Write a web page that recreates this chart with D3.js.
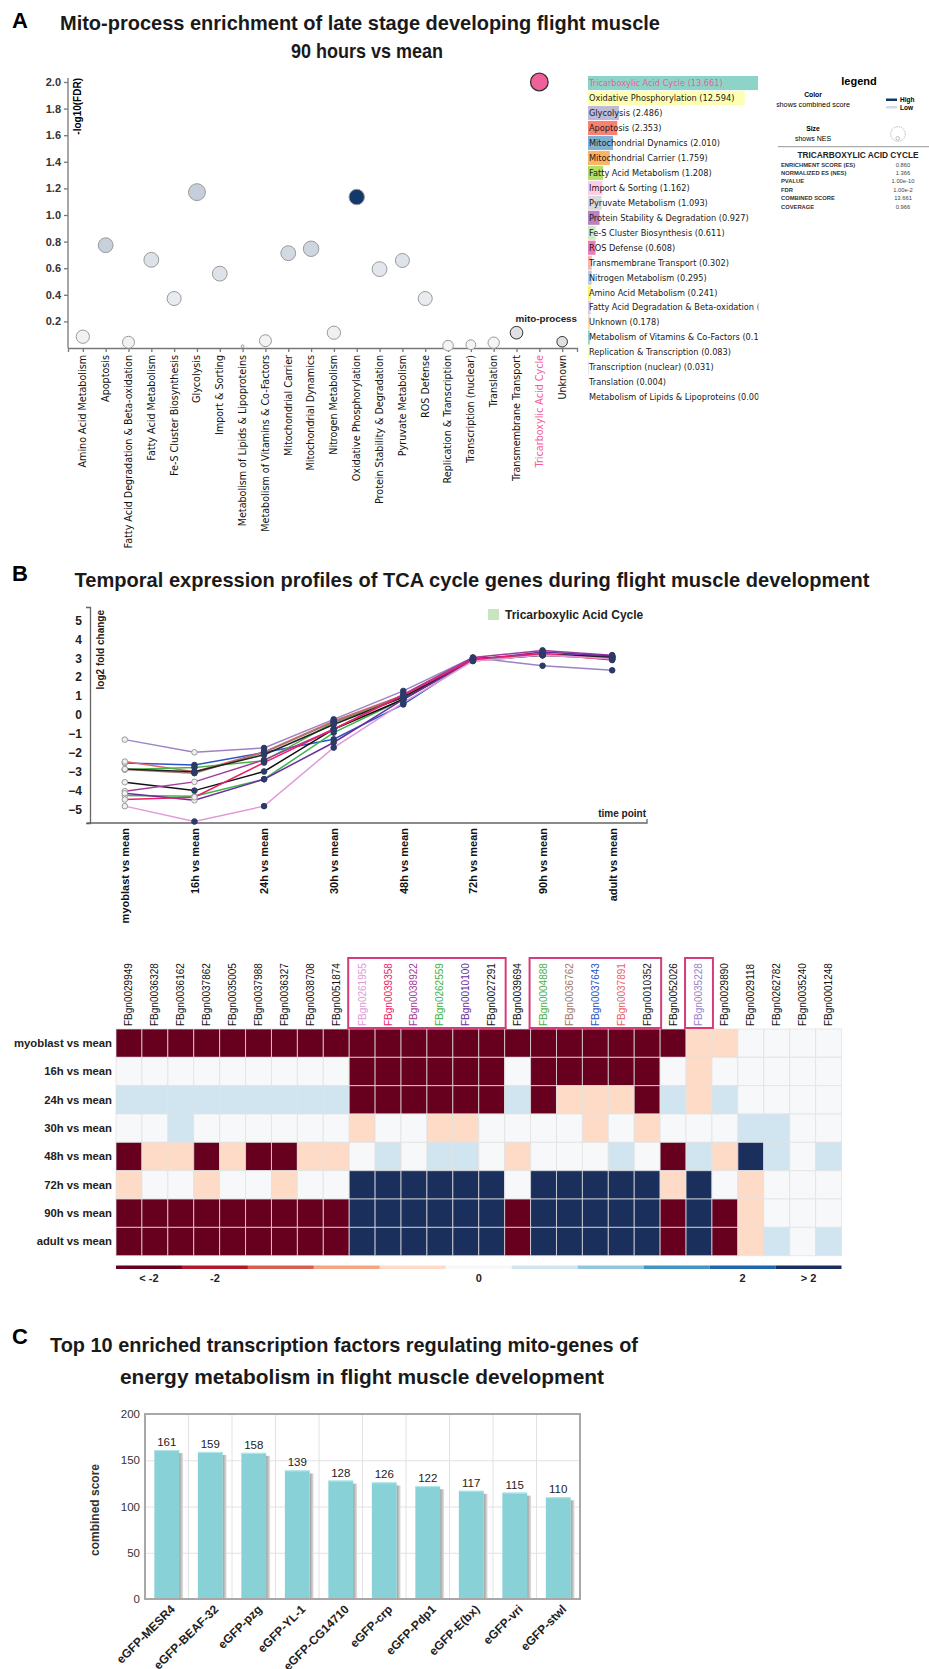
<!DOCTYPE html>
<html lang="en">
<head>
<meta charset="UTF-8">
<title>Flight muscle mito-process figure</title>
<script src="https://cdn.jsdelivr.net/npm/d3@7"></script>
<style>
    body{
        margin:0;
        padding:0;
        background:#fff;
    }
    text{
        font-family: 'Liberation Sans', Arial, sans-serif;
    }
</style>
</head>
<body>
<svg id="fig" width="929" height="1669"></svg>
<script>

// ---------- panel A data ----------
var processes = ['Amino Acid Metabolism', 'Apoptosis', 'Fatty Acid Degradation & Beta-oxidation',
    'Fatty Acid Metabolism', 'Fe-S Cluster Biosynthesis', 'Glycolysis', 'Import & Sorting',
    'Metabolism of Lipids & Lipoproteins', 'Metabolism of Vitamins & Co-Factors', 'Mitochondrial Carrier',
    'Mitochondrial Dynamics', 'Nitrogen Metabolism', 'Oxidative Phosphorylation',
    'Protein Stability & Degradation', 'Pyruvate Metabolism', 'ROS Defense', 'Replication & Transcription',
    'Transcription (nuclear)', 'Translation', 'Transmembrane Transport', 'Tricarboxylic Acid Cycle', 'Unknown']
var negLogFdr = [0.085, 0.773, 0.043, 0.663, 0.372, 1.172, 0.559, 0.013, 0.055, 0.713, 0.746,
    0.115, 1.135, 0.593, 0.658, 0.372, 0.018, 0.025, 0.040, 0.115, 2.0, 0.047]
var nes = [1.03, 1.15, 0.93, 1.15, 1.09, 1.31, 1.15, 0.22, 0.93, 1.15, 1.20,
    1.03, 1.20, 1.15, 1.09, 1.09, 0.82, 0.76, 0.88, 0.98, 1.366, 0.82]
var combinedScore = [0.241, 2.353, 0.215, 1.208, 0.611, 2.486, 1.162, 0.000, 0.146, 1.759, 2.010,
    0.295, 12.594, 0.927, 1.093, 0.608, 0.083, 0.031, 0.004, 0.302, 13.661, 0.178]
var barColors = {
    'Tricarboxylic Acid Cycle': '#8dd3c7', 'Oxidative Phosphorylation': '#ffffb3', 'Glycolysis': '#bebada',
    'Apoptosis': '#fb8072', 'Mitochondrial Dynamics': '#80b1d3', 'Mitochondrial Carrier': '#fdb462',
    'Fatty Acid Metabolism': '#b3de69', 'Import & Sorting': '#fccde5', 'Pyruvate Metabolism': '#d9d9d9',
    'Protein Stability & Degradation': '#bc80bd', 'Fe-S Cluster Biosynthesis': '#ccebc5', 'ROS Defense': '#f07ab4',
    'Transmembrane Transport': '#fbb4ae', 'Nitrogen Metabolism': '#b3cde3', 'Amino Acid Metabolism': '#ffed6f',
    'Fatty Acid Degradation & Beta-oxidation': '#decbe4', 'Unknown': '#fed9a6',
    'Metabolism of Vitamins & Co-Factors': '#8dd3c7', 'Replication & Transcription': '#ffffb3',
    'Transcription (nuclear)': '#bebada', 'Translation': '#fb8072', 'Metabolism of Lipids & Lipoproteins': '#80b1d3'
}
var statNames = ['ENRICHMENT SCORE (ES)', 'NORMALIZED ES (NES)', 'PVALUE', 'FDR', 'COMBINED SCORE', 'COVERAGE']
var statValues = ['0.860', '1.366', '1.00e-10', '1.00e-2', '13.661', '0.966']

// ---------- panel B data ----------
var timePoints = ['myoblast vs mean', '16h vs mean', '24h vs mean', '30h vs mean',
    '48h vs mean', '72h vs mean', '90h vs mean', 'adult vs mean']
var tcaGenes = ['FBgn0035228', 'FBgn0037643', 'FBgn0037891', 'FBgn0004888', 'FBgn0262559', 'FBgn0036762',
    'FBgn0027291', 'FBgn0010352', 'FBgn0038922', 'FBgn0010100', 'FBgn0039358', 'FBgn0261955']
var foldChange = [
    [-1.30, -1.97, -1.74, -0.23, 1.27, 3.03, 2.60, 2.36],
    [-2.53, -2.64, -1.98, -1.28, 0.56, 2.94, 3.20, 3.11],
    [-2.46, -3.00, -1.95, -0.32, 1.04, 2.94, 3.16, 2.94],
    [-2.88, -2.77, -2.42, -0.40, 0.92, 2.90, 3.16, 3.06],
    [-4.25, -4.29, -3.39, -0.93, 0.83, 2.90, 3.20, 3.03],
    [-2.88, -3.07, -1.98, -0.37, 1.00, 2.85, 3.16, 2.97],
    [-3.55, -3.99, -2.98, -0.75, 0.83, 2.97, 3.20, 3.06],
    [-2.85, -3.00, -2.10, -0.50, 0.95, 2.90, 3.15, 3.05],
    [-4.02, -3.53, -2.37, -0.75, 1.09, 3.03, 3.41, 3.16],
    [-4.13, -4.50, -3.39, -1.45, 0.83, 2.90, 3.32, 3.11],
    [-4.46, -4.34, -2.51, -0.75, 1.04, 2.94, 3.24, 2.90],
    [-4.81, -5.62, -4.81, -1.72, 0.65, 2.85, 3.16, 2.97]
]
var geneColors = {
    'FBgn0035228': '#9b84c3', 'FBgn0037643': '#2a56c6', 'FBgn0037891': '#e8616d', 'FBgn0004888': '#4bb04b',
    'FBgn0262559': '#3cb44a', 'FBgn0036762': '#a07a6e', 'FBgn0027291': '#111111', 'FBgn0010352': '#222222',
    'FBgn0038922': '#a3399e', 'FBgn0010100': '#6b2ea0', 'FBgn0039358': '#ec1f66', 'FBgn0261955': '#e09ad8'
}
// hollow markers at the 16h point
var hollowAt16h = [true, false, false, false, true, false, false, false, true, true, true, false]

// ---------- heatmap data ----------
var heatGenes = ['FBgn0029949', 'FBgn0036328', 'FBgn0036162', 'FBgn0037862', 'FBgn0035005', 'FBgn0037988',
    'FBgn0036327', 'FBgn0038708', 'FBgn0051874', 'FBgn0261955', 'FBgn0039358', 'FBgn0038922', 'FBgn0262559',
    'FBgn0010100', 'FBgn0027291', 'FBgn0039694', 'FBgn0004888', 'FBgn0036762', 'FBgn0037643', 'FBgn0037891',
    'FBgn0010352', 'FBgn0052026', 'FBgn0035228', 'FBgn0029890', 'FBgn0029118', 'FBgn0262782', 'FBgn0035240',
    'FBgn0001248']
var heatValues = [
    [-3, -3, -3, -3, -3, -3, -3, -3, -3, -3, -3, -3, -3, -3, -3, -3, -3, -3, -3, -3, -3, -3, -0.5, -0.5, 0, 0, 0, 0],
    [0, 0, 0, 0, 0, 0, 0, 0, 0, -3, -3, -3, -3, -3, -3, 0, -3, -3, -3, -3, -3, 0, -0.5, 0, 0, 0, 0, 0],
    [0.5, 0.5, 0.5, 0.5, 0.5, 0.5, 0.5, 0.5, 0.5, -3, -3, -3, -3, -3, -3, 0.5, -3, -0.5, -0.5, -0.5, -3, 0.5, -0.5, 0.5, 0, 0, 0, 0],
    [0, 0, 0.5, 0, 0, 0, 0, 0, 0, -0.5, 0, 0, -0.5, -0.5, 0, 0, 0, 0, -0.5, 0, -0.5, 0, 0, 0, 0.5, 0.5, 0, 0],
    [-3, -0.5, -0.5, -3, -0.5, -3, -3, -0.5, -0.5, 0, 0.5, 0, 0.5, 0.5, 0, -0.5, 0, 0, 0, 0.5, 0, -3, 0.5, -0.5, 3, 0.5, 0, 0.5],
    [-0.5, 0, 0, -0.5, 0, 0, -0.5, 0, 0, 3, 3, 3, 3, 3, 3, 0, 3, 3, 3, 3, 3, -0.5, 3, 0, -0.5, 0, 0, 0],
    [-3, -3, -3, -3, -3, -3, -3, -3, -3, 3, 3, 3, 3, 3, 3, -3, 3, 3, 3, 3, 3, -3, 3, -3, -0.5, 0, 0, 0],
    [-3, -3, -3, -3, -3, -3, -3, -3, -3, 3, 3, 3, 3, 3, 3, -3, 3, 3, 3, 3, 3, -3, 3, -3, -0.5, 0.5, 0, 0.5]
]
var heatPalette = ['#67001f', '#b2182b', '#d6604d', '#f4a582', '#fddbc7', '#f7f8fa',
    '#d1e5f0', '#92c5de', '#4393c3', '#2166ac', '#1b2f5c']
var paletteLabels = ['< -2', '-2', '', '', '', '0', '', '', '', '2', '> 2']
var boxedGroups = [[9, 14], [16, 20], [22, 22]]

// ---------- panel C data ----------
var tfNames = ['eGFP-MESR4', 'eGFP-BEAF-32', 'eGFP-pzg', 'eGFP-YL-1', 'eGFP-CG14710',
    'eGFP-crp', 'eGFP-Pdp1', 'eGFP-E(bx)', 'eGFP-vri', 'eGFP-stwl']
var tfScores = [161, 159, 158, 139, 128, 126, 122, 117, 115, 110]


var wide = "'DejaVu Sans',sans-serif"
var svg = d3.select('#fig')

// condensed bold headings: Arial metrics squeezed to the measured width
var heading = (x, y, txt, len) => svg.append('text')
    .attr('x', x).attr('y', y)
    .attr('text-anchor', 'middle')
    .attr('textLength', len)
    .attr('lengthAdjust', 'spacingAndGlyphs')
    .style('font-weight', 'bold')
    .style('font-size', '21px')
    .attr('fill', '#1a1a1a')
    .text(txt)

var letter = (y, txt) => svg.append('text')
    .attr('x', 12).attr('y', y)
    .style('font-size', '22px').style('font-weight', 'bold')
    .text(txt)

// ===== A =====
letter(28, 'A')
heading(360, 30, 'Mito-process enrichment of late stage developing flight muscle', 600)
heading(367, 58, '90 hours vs mean', 152)

var xA = d3.scalePoint().domain(processes).range([68, 577]).padding(0.65)
var yA = d3.scaleLinear().domain([0, 2]).range([348, 82])
var rA = d3.scaleLinear().domain([0, 1.366]).range([0, 8.8])
var fillA = d3.scaleLinear().domain([0, 12]).range(['#f4f5f7', '#12396a']).clamp(true)

var gA = svg.append('g')
gA.append('g')
    .attr('transform', 'translate(68,0)')
    .call(d3.axisLeft(yA).tickValues(d3.range(0.2, 2.01, 0.2)).tickSize(4).tickSizeOuter(0).tickFormat(d3.format('.1f')))
    .call(g => g.select('.domain').attr('d', 'M0,' + yA(2.03) + 'V' + yA(0)))
    .call(g => g.selectAll('line,path').attr('stroke', '#777').attr('stroke-width', 1.3))
    .call(g => g.selectAll('text').style('font-size', '11px').style('font-weight', 'bold').attr('fill', '#333'))

gA.append('g')
    .attr('transform', 'translate(0,' + yA(0) + ')')
    .call(d3.axisBottom(xA).tickSize(4).tickSizeOuter(4).tickFormat(''))
    .call(g => g.selectAll('line,path').attr('stroke', '#777').attr('stroke-width', 1.3))

gA.append('text')
    .attr('transform', 'translate(81,' + yA(2.03) + ') rotate(-90)')
    .attr('text-anchor', 'end')
    .style('font-size', '10px').style('font-weight', 'bold')
    .text('-log10(FDR)')

gA.append('text')
    .attr('x', 577).attr('y', yA(0.2) + 1)
    .attr('text-anchor', 'end')
    .style('font-size', '9.8px').style('font-weight', 'bold').attr('fill', '#222')
    .text('mito-process')

gA.selectAll('text.proc')
    .data(processes)
    .enter()
    .append('text')
    .attr('class', 'proc')
    .attr('transform', d => 'translate(' + xA(d) + ',' + (yA(0) + 7) + ') rotate(-90)')
    .attr('text-anchor', 'end')
    .attr('dy', '0.35em')
    .style('font-family', wide).style('font-size', '9.6px')
    .attr('fill', d => d == 'Tricarboxylic Acid Cycle' ? '#ef5d98' : '#111')
    .text(d => d)

var outlined = ['Transmembrane Transport', 'Unknown']
gA.selectAll('circle.proc')
    .data(processes)
    .enter()
    .append('circle')
    .attr('cx', d => xA(d))
    .attr('cy', (d, i) => yA(negLogFdr[i]))
    .attr('r', (d, i) => rA(nes[i]))
    .attr('fill', (d, i) => d == 'Tricarboxylic Acid Cycle' ? '#f0609a'
        : outlined.includes(d) ? '#dfe1e4' : fillA(combinedScore[i]))
    .attr('stroke', (d, i) => (d == 'Tricarboxylic Acid Cycle' || outlined.includes(d)) ? '#333' : '#9a9a9a')
    .attr('stroke-width', (d) => d == 'Tricarboxylic Acid Cycle' ? 1.3 : 1)

// ranked bar list
var ranked = d3.sort(processes.map((p, i) => ({ name: p, score: combinedScore[i] })), (a, b) => b.score - a.score)
var yList = d3.scaleBand().domain(ranked.map(d => d.name)).range([76, 404.5]).paddingInner(0.06)
var wList = d3.scaleLinear().domain([0, 13.661]).range([0, 170])

svg.append('clipPath').attr('id', 'listClip')
    .append('rect').attr('x', 586).attr('y', 70).attr('width', 172.5).attr('height', 340)

var gList = svg.append('g').attr('clip-path', 'url(#listClip)')
gList.selectAll('rect')
    .data(ranked)
    .enter()
    .append('rect')
    .attr('x', 588)
    .attr('y', d => yList(d.name))
    .attr('width', d => wList(d.score))
    .attr('height', yList.bandwidth())
    .attr('fill', d => barColors[d.name])
gList.selectAll('text')
    .data(ranked)
    .enter()
    .append('text')
    .attr('x', 589)
    .attr('y', d => yList(d.name) + yList.bandwidth() / 2)
    .attr('dy', '0.35em')
    .style('font-family', wide).style('font-size', '8.2px')
    .attr('fill', d => d.name == 'Tricarboxylic Acid Cycle' ? '#ef5d98' : '#1a1a1a')
    .text(d => d.name + ' (' + d.score.toFixed(3) + ')')

// legend box
var gLeg = svg.append('g').style('font-family', wide)
gLeg.append('text').attr('x', 859).attr('y', 85).attr('text-anchor', 'middle')
    .style('font-family', 'Liberation Sans').style('font-size', '11px').style('font-weight', 'bold').text('legend')
gLeg.append('text').attr('x', 813).attr('y', 97).attr('text-anchor', 'middle')
    .style('font-size', '6.8px').style('font-weight', 'bold').text('Color')
svg.append('clipPath').attr('id', 'legClip')
    .append('rect').attr('x', 776.5).attr('y', 98).attr('width', 80).attr('height', 12)
gLeg.append('text').attr('x', 813).attr('y', 107).attr('text-anchor', 'middle')
    .attr('clip-path', 'url(#legClip)')
    .style('font-size', '7.3px').text('shows combined score')
gLeg.append('rect').attr('x', 886).attr('y', 98.5).attr('width', 11).attr('height', 2.5).attr('fill', fillA(12))
gLeg.append('rect').attr('x', 886).attr('y', 106).attr('width', 11).attr('height', 2.5).attr('fill', '#d4dbe5')
gLeg.append('text').attr('x', 900).attr('y', 102).style('font-size', '6.5px').style('font-weight', 'bold').text('High')
gLeg.append('text').attr('x', 900).attr('y', 109.5).style('font-size', '6.5px').style('font-weight', 'bold').text('Low')
gLeg.append('text').attr('x', 813).attr('y', 131).attr('text-anchor', 'middle')
    .style('font-size', '6.8px').style('font-weight', 'bold').text('Size')
gLeg.append('text').attr('x', 813).attr('y', 141).attr('text-anchor', 'middle')
    .style('font-size', '7px').text('shows NES')
gLeg.append('circle').attr('cx', 898).attr('cy', 134).attr('r', 7.3)
    .attr('fill', 'none').attr('stroke', '#999').attr('stroke-width', 0.7).attr('stroke-dasharray', '1.5,1')
gLeg.append('circle').attr('cx', 897.7).attr('cy', 138.3).attr('r', 1.8)
    .attr('fill', 'none').attr('stroke', '#999').attr('stroke-width', 0.6)
gLeg.append('line').attr('x1', 778).attr('x2', 929).attr('y1', 146.7).attr('y2', 146.7)
    .attr('stroke', '#777').attr('stroke-width', 0.8)
gLeg.append('text').attr('x', 858).attr('y', 158).attr('text-anchor', 'middle')
    .attr('textLength', 121).attr('lengthAdjust', 'spacingAndGlyphs')
    .style('font-size', '9px').style('font-weight', 'bold').attr('fill', '#222').text('TRICARBOXYLIC ACID CYCLE')
var yStat = d3.scalePoint().domain(statNames).range([166.5, 208.8])
gLeg.selectAll('text.sn').data(statNames).enter().append('text')
    .attr('x', 781).attr('y', d => yStat(d))
    .style('font-size', '5.8px').style('font-weight', 'bold').attr('fill', '#333').text(d => d)
gLeg.selectAll('text.sv').data(statValues).enter().append('text')
    .attr('x', 903).attr('y', (d, i) => yStat(statNames[i])).attr('text-anchor', 'middle')
    .style('font-size', '5.8px').attr('fill', '#444').text(d => d)

// ===== B =====
letter(581, 'B')
heading(472, 587, 'Temporal expression profiles of TCA cycle genes during flight muscle development', 795)

var xB = d3.scalePoint().domain(timePoints).range([90, 647]).padding(0.5)
var yB = d3.scaleLinear().domain([-5.7, 5.7]).range([823, 607])

var gB = svg.append('g')
gB.append('g')
    .attr('transform', 'translate(90,0)')
    .call(d3.axisLeft(yB).tickValues(d3.range(-5, 6)).tickSize(0).tickSizeOuter(4).tickPadding(8))
    .call(g => g.selectAll('path').attr('stroke', '#666').attr('stroke-width', 1.3))
    .call(g => g.selectAll('text').style('font-size', '12px').style('font-weight', 'bold').attr('fill', '#222'))

gB.append('g')
    .attr('transform', 'translate(0,823)')
    .call(d3.axisBottom(xB).tickSize(0).tickSizeOuter(-4).tickPadding(4))
    .call(g => g.select('.domain').attr('d', 'M87,0H647V-4'))
    .call(g => g.selectAll('path').attr('stroke', '#666').attr('stroke-width', 1.3))
    .call(g => g.selectAll('text')
        .attr('transform', 'rotate(-90)')
        .attr('text-anchor', 'end')
        .attr('x', -5).attr('y', 0).attr('dy', '0.35em')
        .style('font-size', '11px').style('font-weight', 'bold').attr('fill', '#111'))

gB.append('text')
    .attr('transform', 'translate(104,610) rotate(-90)')
    .attr('text-anchor', 'end')
    .style('font-size', '10px').style('font-weight', 'bold').attr('fill', '#222')
    .text('log2 fold change')

gB.append('text')
    .attr('x', 646).attr('y', 817).attr('text-anchor', 'end')
    .style('font-size', '10px').style('font-weight', 'bold').attr('fill', '#222')
    .text('time point')

gB.append('rect').attr('x', 488).attr('y', 609).attr('width', 11).attr('height', 11).attr('fill', '#c7e6bf')
gB.append('text').attr('x', 505).attr('y', 619)
    .style('font-size', '12px').style('font-weight', 'bold').attr('fill', '#222')
    .text('Tricarboxylic Acid Cycle')

var lineB = d3.line().x((d, i) => xB(timePoints[i])).y(d => yB(d))
gB.selectAll('path.gene')
    .data(foldChange)
    .enter()
    .append('path')
    .attr('class', 'gene')
    .attr('d', lineB)
    .attr('fill', 'none')
    .attr('stroke', (d, i) => geneColors[tcaGenes[i]])
    .attr('stroke-width', 1.5)

foldChange.forEach(function (series, s) {
    var hollow = i => i == 0 || (i == 1 && hollowAt16h[s])
    gB.selectAll(null)
        .data(series)
        .enter()
        .append('circle')
        .attr('cx', (d, i) => xB(timePoints[i]))
        .attr('cy', d => yB(d))
        .attr('r', 2.8)
        .attr('fill', (d, i) => hollow(i) ? '#f0f0f0' : '#2b3a67')
        .attr('stroke', (d, i) => hollow(i) ? '#9a9a9a' : '#2b3a67')
        .attr('stroke-width', 1)
})

// ===== heatmap =====
var xH = d3.scaleBand().domain(heatGenes).range([116, 841.5])
var yH = d3.scaleBand().domain(timePoints).range([1029, 1255.7])
var colorH = d3.scaleQuantize().domain([-2.75, 2.75]).range(heatPalette)

var gH = svg.append('g')
heatValues.forEach(function (row, r) {
    gH.selectAll(null)
        .data(row)
        .enter()
        .append('rect')
        .attr('x', (d, c) => xH(heatGenes[c]))
        .attr('y', yH(timePoints[r]))
        .attr('width', xH.bandwidth())
        .attr('height', yH.bandwidth())
        .attr('fill', d => colorH(d))
        .attr('stroke', 'rgba(225,225,225,0.75)')
        .attr('stroke-width', 1)
})

gH.selectAll('text.row')
    .data(timePoints)
    .enter()
    .append('text')
    .attr('x', 112)
    .attr('y', d => yH(d) + yH.bandwidth() / 2)
    .attr('dy', '0.35em')
    .attr('text-anchor', 'end')
    .style('font-size', '11.3px').style('font-weight', 'bold').attr('fill', '#222')
    .text(d => d)

gH.selectAll('text.col')
    .data(heatGenes)
    .enter()
    .append('text')
    .attr('transform', d => 'translate(' + (xH(d) + xH.bandwidth() / 2) + ',1026) rotate(-90)')
    .attr('dy', '0.35em')
    .style('font-size', '10px')
    .attr('fill', d => geneColors[d] || '#111')
    .text(d => d)

gH.selectAll('rect.box')
    .data(boxedGroups)
    .enter()
    .append('rect')
    .attr('x', d => xH(heatGenes[d[0]]) - 1)
    .attr('y', 958)
    .attr('width', d => xH(heatGenes[d[1]]) + xH.bandwidth() - xH(heatGenes[d[0]]) + 2)
    .attr('height', 70)
    .attr('fill', 'none')
    .attr('stroke', '#d63c7a')
    .attr('stroke-width', 2)

var xKey = d3.scaleBand().domain(d3.range(heatPalette.length)).range([116, 841.5])
gH.selectAll('rect.key')
    .data(heatPalette)
    .enter()
    .append('rect')
    .attr('x', (d, i) => xKey(i))
    .attr('y', 1265.5)
    .attr('width', xKey.bandwidth())
    .attr('height', 3.5)
    .attr('fill', d => d)
gH.selectAll('text.key')
    .data(paletteLabels)
    .enter()
    .append('text')
    .attr('x', (d, i) => xKey(i) + xKey.bandwidth() / 2)
    .attr('y', 1282)
    .attr('text-anchor', 'middle')
    .style('font-size', '11px').style('font-weight', 'bold').attr('fill', '#222')
    .text(d => d)

// ===== C =====
letter(1344, 'C')
heading(344, 1352, 'Top 10 enriched transcription factors regulating mito-genes of', 588)
heading(362, 1384, 'energy metabolism in flight muscle development', 484)

var xC = d3.scaleBand().domain(tfNames).range([145, 580])
var yC = d3.scaleLinear().domain([0, 200]).range([1599, 1414])

var defs = svg.append('defs')
var shade = defs.append('linearGradient').attr('id', 'shade').attr('x1', 0).attr('x2', 1).attr('y1', 0).attr('y2', 0)
shade.append('stop').attr('offset', '0%').attr('stop-color', '#9a9a9a')
shade.append('stop').attr('offset', '100%').attr('stop-color', '#e6e6e6')

var gC = svg.append('g')
gC.append('g')
    .attr('transform', 'translate(145,0)')
    .call(d3.axisLeft(yC).tickValues([50, 100, 150]).tickSize(-435).tickFormat(''))
    .call(g => g.select('.domain').remove())
    .call(g => g.selectAll('line').attr('stroke', '#e2e2e2'))
gC.selectAll('line.vgrid')
    .data(tfNames.slice(1))
    .enter()
    .append('line')
    .attr('x1', d => xC(d)).attr('x2', d => xC(d))
    .attr('y1', yC(200)).attr('y2', yC(0))
    .attr('stroke', '#e2e2e2')

gC.selectAll('rect.shadow')
    .data(tfScores)
    .enter()
    .append('rect')
    .attr('x', (d, i) => xC(tfNames[i]) + xC.bandwidth() * 0.215 + xC.bandwidth() * 0.57)
    .attr('y', d => yC(d) + 3)
    .attr('width', 4)
    .attr('height', d => yC(0) - yC(d) - 3)
    .attr('fill', 'url(#shade)')
gC.selectAll('rect.bar')
    .data(tfScores)
    .enter()
    .append('rect')
    .attr('x', (d, i) => xC(tfNames[i]) + xC.bandwidth() * 0.215)
    .attr('y', d => yC(d))
    .attr('width', xC.bandwidth() * 0.57)
    .attr('height', d => yC(0) - yC(d))
    .attr('fill', '#88d1d6')
gC.selectAll('line.bartop')
    .data(tfScores)
    .enter()
    .append('line')
    .attr('x1', (d, i) => xC(tfNames[i]) + xC.bandwidth() * 0.215)
    .attr('x2', (d, i) => xC(tfNames[i]) + xC.bandwidth() * 0.785)
    .attr('y1', d => yC(d) + 0.5).attr('y2', d => yC(d) + 0.5)
    .attr('stroke', '#b7e6e9')
gC.selectAll('text.val')
    .data(tfScores)
    .enter()
    .append('text')
    .attr('x', (d, i) => xC(tfNames[i]) + xC.bandwidth() / 2)
    .attr('y', d => yC(d) - 4)
    .attr('text-anchor', 'middle')
    .style('font-size', '11.5px').attr('fill', '#222')
    .text(d => d)

gC.append('rect')
    .attr('x', 145).attr('y', yC(200))
    .attr('width', 435).attr('height', yC(0) - yC(200))
    .attr('fill', 'none').attr('stroke', '#a8a8a8').attr('stroke-width', 2)

gC.append('g')
    .attr('transform', 'translate(145,0)')
    .call(d3.axisLeft(yC).tickValues([0, 50, 100, 150, 200]).tickSize(0).tickPadding(5))
    .call(g => g.select('.domain').remove())
    .call(g => g.selectAll('text').style('font-size', '11.5px').attr('fill', '#333'))

gC.append('g')
    .attr('transform', 'translate(0,' + yC(0) + ')')
    .call(d3.axisBottom(xC).tickSize(0).tickPadding(0))
    .call(g => g.select('.domain').remove())
    .call(g => g.selectAll('text')
        .attr('transform', 'translate(6,8) rotate(-45)')
        .attr('text-anchor', 'end')
        .attr('y', 0).attr('dy', '0.35em')
        .style('font-size', '12px').style('font-weight', 'bold').attr('fill', '#222'))

gC.append('text')
    .attr('transform', 'translate(99,1510) rotate(-90)')
    .attr('text-anchor', 'middle')
    .style('font-size', '12px').style('font-weight', 'bold').attr('fill', '#333')
    .text('combined score')

</script>
</body>
</html>
